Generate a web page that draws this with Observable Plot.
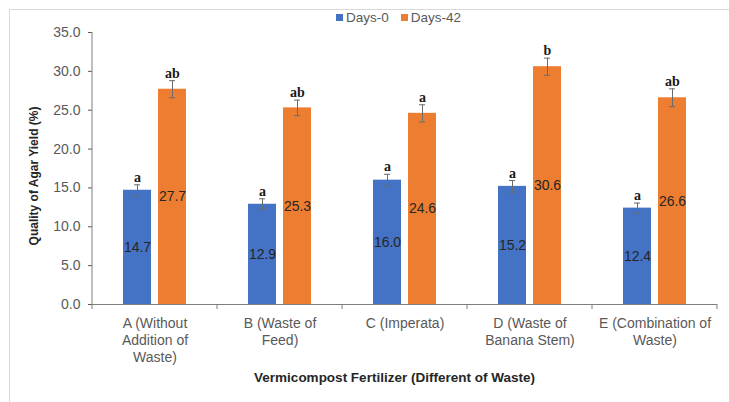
<!DOCTYPE html>
<html>
<head>
<meta charset="utf-8">
<script src="https://cdn.jsdelivr.net/npm/d3@7"></script>
<script src="https://cdn.jsdelivr.net/npm/@observablehq/plot@0.6"></script>
<style>
  body { margin: 0; background: #fff; font-family: "Liberation Sans", Arial, sans-serif; }
  #wrap { position: relative; width: 729px; height: 402px; overflow: hidden; }
  #border { position: absolute; left: 9px; top: 9px; width: 740px; height: 420px;
            border-left: 1px solid #d9d9d9; border-top: 1px solid #d9d9d9; box-sizing: border-box; }
  #legend { height: 24px; display: flex; align-items: center; padding-left: 336px;
            font-size: 13.5px; color: #595959; box-sizing: border-box; padding-top: 10px; }
  .item { display: flex; align-items: center; margin-right: 12px; }
  .sw { width: 7px; height: 7px; margin-right: 3px; }
</style>
</head>
<body>
<div id="wrap">
  <div id="border"></div>
  <div id="legend"></div>
  <div id="chart"></div>
</div>
<script>
const categories = ["A", "B", "C", "D", "E"];
const tickLabels = ["A (Without\nAddition of\nWaste)", "B (Waste of\nFeed)", "C (Imperata)", "D (Waste of\nBanana Stem)", "E (Combination of\nWaste)"];
const seriesNames = ["Days-0", "Days-42"];
const seriesColors = ["#4472C4", "#ED7D31"];
const days0 = [14.7, 12.9, 16.0, 15.2, 12.4];
const days42 = [27.7, 25.3, 24.6, 30.6, 26.6];
const err0 = [0.7, 0.7, 0.75, 0.75, 0.65];
const err42 = [1.1, 1.0, 1.1, 1.1, 1.15];
const letters0 = ["a", "a", "a", "a", "a"];
const letters42 = ["ab", "ab", "a", "b", "ab"];
const yTicks = [0, 5, 10, 15, 20, 25, 30, 35];
const yTitle = "Quality of Agar Yield (%)";
const xTitle = "Vermicompost Fertilizer (Different of Waste)";

const rows = [];
categories.forEach((c, i) => {
  rows.push({cat: c, series: seriesNames[0], value: days0[i], err: err0[i], letter: letters0[i]});
  rows.push({cat: c, series: seriesNames[1], value: days42[i], err: err42[i], letter: letters42[i]});
});

// legend
const legend = document.getElementById("legend");
seriesNames.forEach((s, i) => {
  const it = document.createElement("div");
  it.className = "item";
  it.innerHTML = `<span class="sw" style="background:${seriesColors[i]}"></span><span>${s}</span>`;
  legend.appendChild(it);
});

const W = 729, H = 378;
const plot = Plot.plot({
  width: W,
  height: H,
  marginLeft: 90,
  marginRight: 11,
  marginTop: 8,
  marginBottom: 98,
  style: {fontFamily: "'Liberation Sans', Arial, sans-serif", fontSize: "14px", color: "#595959", background: "transparent"},
  fx: {domain: categories, padding: 0, label: null, axis: null},
  x: {domain: seriesNames, paddingInner: 0.21, paddingOuter: 0.875, axis: null},
  y: {domain: [0, 35], ticks: yTicks, tickFormat: d => d.toFixed(1), tickSize: 4, tickPadding: 8, label: null},
  color: {domain: seriesNames, range: seriesColors},
  marks: [
    Plot.barY(rows, {fx: "cat", x: "series", y: "value", fill: "series"}),
    Plot.ruleY([0], {stroke: "#7f7f7f"}),
    Plot.ruleX(rows, {fx: "cat", x: "series", y1: d => d.value - d.err, y2: d => d.value + d.err, stroke: "#6b6b6b", strokeWidth: 1}),
    Plot.tickY(rows, {fx: "cat", x: "series", y: d => d.value + d.err, stroke: "#6b6b6b", insetLeft: 11, insetRight: 11}),
    Plot.tickY(rows, {fx: "cat", x: "series", y: d => d.value - d.err, stroke: "#6b6b6b", insetLeft: 11, insetRight: 11}),
    Plot.text(rows, {fx: "cat", x: "series", y: d => d.value / 2, text: d => d.value.toFixed(1), fill: "#262626", fontSize: 14}),
    Plot.text(rows, {fx: "cat", x: "series", y: d => d.value + d.err, text: "letter", lineAnchor: "bottom", dy: -3,
      fill: "#1a1a1a", fontSize: 14, fontWeight: "bold", fontFamily: "'Liberation Serif', 'Times New Roman', serif", letterSpacing: "1.5px"}),
    Plot.axisFx({anchor: "bottom", tickFormat: d => tickLabels[categories.indexOf(d)], tickSize: 0, tickPadding: 12, fontSize: 14, lineHeight: 1.2, color: "#595959", label: null})
  ]
});
document.getElementById("chart").appendChild(plot);

// axis line, category boundary ticks, titles
const svg = d3.select(plot.tagName === "svg" ? plot : plot.querySelector("svg"));
const fx = plot.scale("fx"), y = plot.scale("y");
const y0 = y.apply(0), yTop = y.apply(35);
const x0 = fx.apply(categories[0]);
svg.append("line").attr("x1", x0).attr("x2", x0).attr("y1", yTop).attr("y2", y0)
  .attr("stroke", "#7f7f7f");
const bounds = categories.map(c => fx.apply(c));
bounds.push(fx.apply(categories[categories.length - 1]) + fx.bandwidth);
bounds.forEach(b => {
  svg.append("line").attr("x1", b).attr("x2", b).attr("y1", y0).attr("y2", y0 + 5).attr("stroke", "#7f7f7f");
});
svg.append("text").text(yTitle)
  .attr("transform", `translate(35,${(y0 + yTop) / 2 + 8}) rotate(-90)`)
  .attr("text-anchor", "middle").attr("dominant-baseline", "middle")
  .attr("font-weight", "bold").attr("font-size", 12).attr("fill", "#262626");
svg.append("text").text(xTitle)
  .attr("x", (bounds[0] + bounds[bounds.length - 1]) / 2 - 10).attr("y", y0 + 74)
  .attr("text-anchor", "middle").attr("dominant-baseline", "middle")
  .attr("font-weight", "bold").attr("font-size", 13.5).attr("fill", "#262626");
</script>
</body>
</html>
